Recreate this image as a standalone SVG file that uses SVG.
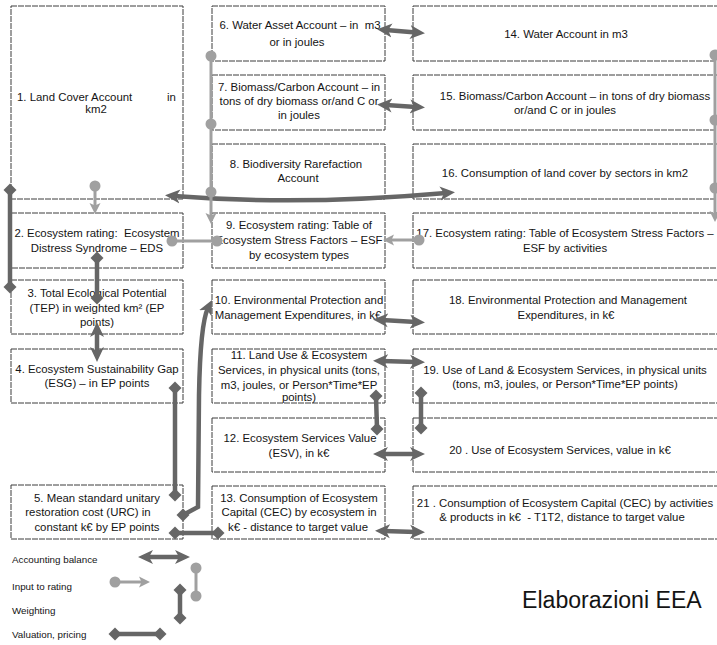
<svg xmlns="http://www.w3.org/2000/svg" width="717" height="645" viewBox="0 0 717 645">
  <defs>
    <style>
      .box { fill: #ffffff; stroke: #3c3c3c; stroke-width: 1; stroke-dasharray: 6 1; }
      .t { font-family: "Liberation Sans", Arial, sans-serif; font-size: 11.4px; fill: #141414; text-anchor: middle; }
      .ts { text-anchor: start; }
      .lg { font-family: "Liberation Sans", Arial, sans-serif; font-size: 9.8px; fill: #141414; }
      .dk { fill: none; stroke: #666666; stroke-width: 4.5; }
      .lt { fill: none; stroke: #a0a0a0; stroke-width: 3; }
      .dot { fill: #a0a0a0; }
      .bal { marker-start: url(#arrDk); marker-end: url(#arrDk); }
      .wgt { marker-start: url(#dia); marker-end: url(#dia); }
      .inp { marker-start: url(#dotM); marker-end: url(#arrLt); }
      .dd { marker-start: url(#dotM); marker-end: url(#dotM); }
    </style>
    <!-- barbed arrowhead for balance links -->
    <marker id="arrDk" markerUnits="userSpaceOnUse" viewBox="0 -8 16 16" refX="6" refY="0" markerWidth="16" markerHeight="16" orient="auto-start-reverse">
      <path d="M0,-7 L15,0 L0,7 L4,0 Z" fill="#666666"/>
    </marker>
    <!-- lighter arrowhead for rating inputs -->
    <marker id="arrLt" markerUnits="userSpaceOnUse" viewBox="0 -6 12 12" refX="4" refY="0" markerWidth="12" markerHeight="12" orient="auto-start-reverse">
      <path d="M0,-5.5 L11,0 L0,5.5 L2.5,0 Z" fill="#a0a0a0"/>
    </marker>
    <!-- diamond end for weighting / valuation -->
    <marker id="dia" markerUnits="userSpaceOnUse" viewBox="-7 -7 14 14" refX="0" refY="0" markerWidth="14" markerHeight="14" orient="0">
      <path d="M-6.5,0 L0,-6.5 L6.5,0 L0,6.5 Z" fill="#666666"/>
    </marker>
    <!-- round end for rating inputs -->
    <marker id="dotM" markerUnits="userSpaceOnUse" viewBox="-6 -6 12 12" refX="0" refY="0" markerWidth="12" markerHeight="12" orient="0">
      <circle r="5.5" fill="#a0a0a0"/>
    </marker>
  </defs>

  <rect width="717" height="645" fill="#ffffff"/>

  <!-- column 1 -->
  <g id="n1">
    <rect class="box" x="11" y="6" width="172" height="193"/>
    <text class="t ts" x="17" y="101">1. Land Cover Account<tspan x="167">in</tspan></text>
    <text class="t" x="96" y="113">km2</text>
  </g>
  <g id="n2">
    <rect class="box" x="11" y="213" width="172" height="55"/>
    <text class="t" x="97" y="237">2. Ecosystem rating:&#160; Ecosystem</text>
    <text class="t" x="97" y="252">Distress Syndrome – EDS</text>
  </g>
  <g id="n3">
    <rect class="box" x="11" y="280" width="172" height="54"/>
    <text class="t" x="97" y="297">3. Total Ecological Potential</text>
    <text class="t" x="97" y="311.5">(TEP) in weighted km² (EP</text>
    <text class="t" x="97" y="326">points)</text>
  </g>
  <g id="n4">
    <rect class="box" x="11" y="349" width="172" height="54"/>
    <text class="t" x="97" y="373">4. Ecosystem Sustainability Gap</text>
    <text class="t" x="97" y="387">(ESG) – in EP points</text>
  </g>
  <g id="n5">
    <rect class="box" x="11" y="485" width="172" height="54"/>
    <text class="t" x="97" y="502">5. Mean standard unitary</text>
    <text class="t" x="88" y="516">restoration cost (URC) in</text>
    <text class="t" x="97" y="531">constant k€ by EP points</text>
  </g>

  <!-- column 2 -->
  <g id="n6">
    <rect class="box" x="212" y="6" width="173" height="55"/>
    <text class="t" x="300" y="29">6. Water Asset Account – in&#160; m3</text>
    <text class="t" x="297" y="46">or in joules</text>
  </g>
  <g id="n7">
    <rect class="box" x="212" y="75" width="173" height="55"/>
    <text class="t" x="299" y="91">7. Biomass/Carbon Account – in</text>
    <text class="t" x="299" y="105">tons of dry biomass or/and C or</text>
    <text class="t" x="299" y="119">in joules</text>
  </g>
  <g id="n8">
    <rect class="box" x="212" y="144" width="173" height="55"/>
    <text class="t" x="296" y="168">8. Biodiversity Rarefaction</text>
    <text class="t" x="298" y="182">Account</text>
  </g>
  <g id="n9">
    <rect class="box" x="212" y="213" width="173" height="55"/>
    <text class="t" x="299" y="229">9. Ecosystem rating: Table of</text>
    <text class="t" x="299" y="244">Ecosystem Stress Factors – ESF</text>
    <text class="t" x="299" y="259">by ecosystem types</text>
  </g>
  <g id="n10">
    <rect class="box" x="212" y="280" width="173" height="54"/>
    <text class="t" x="299" y="304">10. Environmental Protection and</text>
    <text class="t" x="298" y="319">Management Expenditures, in k€</text>
  </g>
  <g id="n11">
    <rect class="box" x="212" y="349" width="173" height="54"/>
    <text class="t" x="299" y="359">11. Land Use &amp; Ecosystem</text>
    <text class="t" x="299" y="374">Services, in physical units (tons,</text>
    <text class="t" x="299" y="389">m3, joules, or Person*Time*EP</text>
    <text class="t" x="299" y="401">points)</text>
  </g>
  <g id="n12">
    <rect class="box" x="212" y="418" width="173" height="54"/>
    <text class="t" x="300" y="442">12. Ecosystem Services Value</text>
    <text class="t" x="299" y="457">(ESV), in k€</text>
  </g>
  <g id="n13">
    <rect class="box" x="212" y="486" width="173" height="53"/>
    <text class="t" x="299" y="502">13. Consumption of Ecosystem</text>
    <text class="t" x="299" y="516">Capital (CEC) by ecosystem in</text>
    <text class="t" x="298" y="531">k€ - distance to target value</text>
  </g>

  <!-- column 3 -->
  <g id="n14">
    <rect class="box" x="413" y="6" width="306" height="55"/>
    <text class="t" x="566" y="38">14. Water Account in m3</text>
  </g>
  <g id="n15">
    <rect class="box" x="413" y="75" width="306" height="55"/>
    <text class="t" x="575" y="100">15. Biomass/Carbon Account – in tons of dry biomass</text>
    <text class="t" x="565" y="114">or/and C or in joules</text>
  </g>
  <g id="n16">
    <rect class="box" x="413" y="144" width="306" height="55"/>
    <text class="t" x="565" y="177">16. Consumption of land cover by sectors in km2</text>
  </g>
  <g id="n17">
    <rect class="box" x="413" y="213" width="306" height="55"/>
    <text class="t" x="565" y="237">17. Ecosystem rating: Table of Ecosystem Stress Factors –</text>
    <text class="t" x="565" y="252">ESF by activities</text>
  </g>
  <g id="n18">
    <rect class="box" x="413" y="280" width="306" height="54"/>
    <text class="t" x="568" y="304">18. Environmental Protection and Management</text>
    <text class="t" x="566" y="319">Expenditures, in k€</text>
  </g>
  <g id="n19">
    <rect class="box" x="413" y="349" width="306" height="54"/>
    <text class="t" x="565" y="374">19. Use of Land &amp; Ecosystem Services, in physical units</text>
    <text class="t" x="565" y="388">(tons, m3, joules, or Person*Time*EP points)</text>
  </g>
  <g id="n20">
    <rect class="box" x="413" y="418" width="306" height="54"/>
    <text class="t" x="560" y="454">20 . Use of Ecosystem Services, value in k€</text>
  </g>
  <g id="n21">
    <rect class="box" x="413" y="486" width="306" height="53"/>
    <text class="t" x="565" y="507">21 . Consumption of Ecosystem Capital (CEC) by activities</text>
    <text class="t" x="562" y="521">&amp; products in k€&#160; - T1T2, distance to target value</text>
  </g>

  <!-- connectors -->
  <g id="connectors">
    <!-- accounting balances -->
    <path class="dk bal" d="M174 196 Q300 206 446 193"/>
    <path class="dk bal" d="M386 30 L416 32.5"/>
    <path class="dk bal" d="M386 105 L416 107"/>
    <path class="dk bal" d="M382 320 L416 322"/>
    <path class="dk bal" d="M382 361 L416 362"/>
    <path class="dk bal" d="M382 454 L416 454"/>
    <path class="dk bal" d="M384 531 L416 532"/>
    <path class="dk bal" d="M97 331 L97 353"/>
    <!-- weighting and valuation -->
    <path class="dk wgt" d="M10 190 L10 287"/>
    <path class="dk wgt" d="M97 258 L97 298"/>
    <path class="dk wgt" d="M175 388 L175 495"/>
    <path class="dk wgt" d="M175 533 L218 533"/>
    <path class="dk wgt" d="M376 396 L377 429"/>
    <path class="dk wgt" d="M421 393 L421 428"/>
    <path class="dk" d="M183 515 L198 507 L199 395 C200 340 203 318 208 308" marker-start="url(#dia)" marker-end="url(#arrDk)"/>
    <!-- inputs to rating -->
    <path class="lt inp" d="M95 186 L95 207"/>
    <path class="lt inp" d="M211 56 L211 217"/>
    <circle class="dot" cx="211" cy="124" r="5.5"/>
    <circle class="dot" cx="211" cy="192" r="5.5"/>
    <path class="lt inp" d="M715 55 L715 215"/>
    <circle class="dot" cx="715" cy="120" r="5.5"/>
    <circle class="dot" cx="715" cy="188" r="5.5"/>
    <path class="lt inp" d="M419 240 L390 240"/>
    <path class="lt dd" d="M172 241 L217 241"/>
  </g>

  <!-- legend -->
  <g id="legend">
    <text class="lg" x="12" y="563">Accounting balance</text>
    <text class="lg" x="12" y="589.5">Input to rating</text>
    <text class="lg" x="12" y="613.5">Weighting</text>
    <text class="lg" x="12" y="637.5">Valuation, pricing</text>
    <path class="dk bal" d="M147 557 L181 557"/>
    <path class="lt inp" d="M115 582 L143 582"/>
    <path class="lt dd" d="M196 568 L196 596"/>
    <path class="dk wgt" d="M180 590 L180 618"/>
    <path class="dk wgt" d="M115 634 L160 634"/>
  </g>

  <text x="522" y="608" font-family="'Liberation Sans', Arial, sans-serif" font-size="23.1" fill="#141414">Elaborazioni EEA</text>
</svg>
